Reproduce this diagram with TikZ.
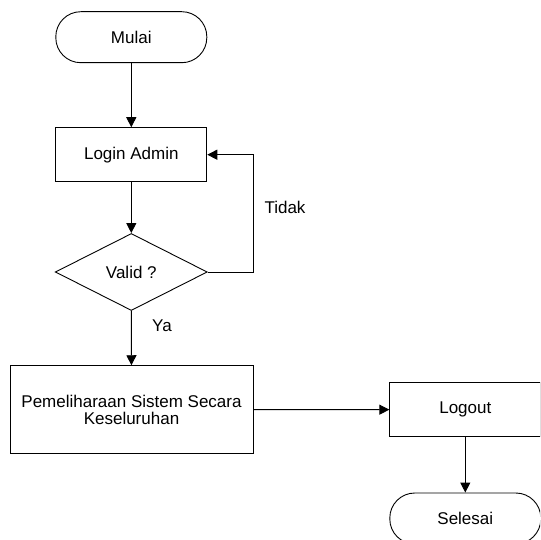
\documentclass[tikz,border=0pt]{standalone}
\usepackage{fontspec}
\setmainfont{Liberation Sans}
\usetikzlibrary{shapes.geometric,arrows.meta}
\begin{document}
\begin{tikzpicture}[x=1pt,y=-1pt,
  every node/.style={font=\fontsize{17}{17}\selectfont},
  terminal/.style={draw, line width=0.9pt, rectangle, rounded corners=25pt,
    minimum width=151pt, minimum height=51pt, inner sep=0pt},
  process/.style={draw, line width=0.9pt, rectangle,
    minimum width=151pt, minimum height=54pt, inner sep=0pt, align=center},
  decision/.style={draw, line width=0.9pt, diamond,
    minimum width=152pt, minimum height=77pt, inner sep=0pt},
  arr/.style={line width=0.9pt, -{Triangle[length=10pt,width=10pt]}},
  lbl/.style={inner sep=0pt}]
\path[use as bounding box, clip] (0,0) rectangle (540,540);
\fill[white] (0,0) rectangle (540,540);

% flowchart nodes
\node[terminal] (mulai) at (131.3,37.2) {Mulai};
\node[process] (login) at (131.3,154.7) {Login Admin};
\node[decision] (valid) at (131.3,272) {Valid ?};
\node[process, minimum width=243pt, minimum height=87.6pt] (pelihara) at (131.5,409.5)
  {Pemeliharaan Sistem Secara\\Keseluruhan};
\node[process] (logout) at (465.3,409.7) {Logout};
\node[terminal] (selesai) at (465.3,518.5) {Selesai};

% connectors
\draw[arr] (mulai) -- (login);
\draw[arr] (login) -- (valid);
\draw[arr] (valid.east) -- ++(45.5,0) |- (login.east);
\draw[arr] (valid) -- (pelihara);
\draw[arr] (pelihara) -- (logout);
\draw[arr] (logout) -- (selesai);

% branch labels
\node[lbl] (tidak) at (285,207.5) {Tidak};
\node[lbl] (ya) at (162,325.5) {Ya};
\end{tikzpicture}
\end{document}
